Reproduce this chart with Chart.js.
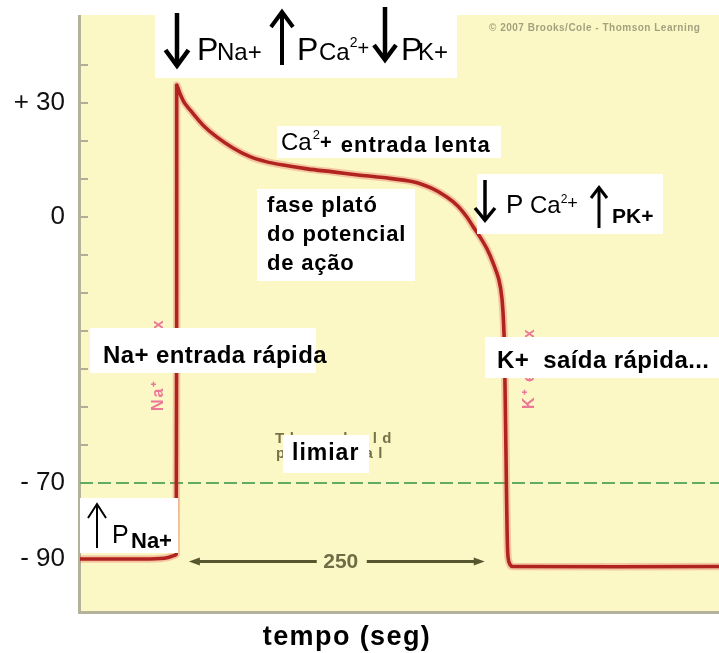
<!DOCTYPE html>
<html>
<head>
<meta charset="utf-8">
<script src="https://cdn.jsdelivr.net/npm/chart.js@4.4.1/dist/chart.umd.min.js"></script>
<style>
  html, body { margin: 0; padding: 0; background: #ffffff; }
  canvas { display: block; }
</style>
</head>
<body>
<canvas id="c" width="719" height="653"></canvas>
<script>
// Ventricular action potential: membrane potential (mV) against time (ms)
const timeMs = [0, 59, 68, 74.5, 78.5, 81.3, 81.7, 83, 84.5, 88, 93, 104, 115.5, 129.3, 143.7, 157, 171.6,
  192, 213.8, 235, 256, 281.4, 297, 310, 319, 326.8, 332, 338, 344, 349, 354, 356.6, 358.3, 359.2,
  360.1, 360.9, 361.7, 363.4, 366, 540];
const potentialMv = [-90, -90, -89.9, -89.6, -89.2, -88.7, 34.7, 33.8, 32.5, 30.2, 28.2, 24.2, 21.1, 18.2, 15.9, 14.6, 13.7,
  12.7, 11.9, 11.1, 10.4, 9.3, 7.6, 5.3, 3.0, 0.1, -2.4, -5.2, -8.4, -12, -16.5, -21.5, -30.5, -45,
  -65, -82, -89.5, -91.5, -92, -92];

// threshold potential and the axis range
const thresholdMv = -70;
const timeRange = [0, 540];
const potentialRange = [-103.7, 53.2];

// labelled potentials on the vertical axis and the small inner tick marks
const labelledMv = [30, 0, -70, -90];
const labelText = ['+ 30', '0', '- 70', '- 90'];
const minorTickMv = [40, 30, 20, 10, 0, -10, -20, -30, -40, -50, -60, -70, -80, -90];

// duration bracket under the curve
const bracketStartMs = 92;
const bracketMs = 250;
const bracketLevelMv = -90.7;

const axisTitle = 'tempo (seg)';

const FF = '"Liberation Sans", Arial, Helvetica, sans-serif';

function txt(ctx, s, x, y, size, weight, opts) {
  opts = opts || {};
  ctx.font = weight + ' ' + size + 'px ' + FF;
  ctx.letterSpacing = (opts.ls || 0) + 'px';
  ctx.textAlign = opts.align || 'left';
  ctx.textBaseline = 'alphabetic';
  ctx.fillStyle = opts.color || '#000';
  ctx.fillText(s, x, y);
  const w = ctx.measureText(s).width;
  ctx.letterSpacing = '0px';
  return x + w;
}

function arrow(ctx, x, yTail, yTip, headW, headH, lw) {
  const dir = yTip > yTail ? 1 : -1;
  ctx.save();
  ctx.strokeStyle = '#000';
  ctx.lineWidth = lw;
  ctx.lineJoin = 'miter';
  ctx.beginPath();
  ctx.moveTo(x, yTail);
  ctx.lineTo(x, yTip - dir * lw * 0.5);
  ctx.stroke();
  ctx.beginPath();
  ctx.moveTo(x - headW / 2, yTip - dir * headH);
  ctx.lineTo(x, yTip - dir * lw * 0.5);
  ctx.lineTo(x + headW / 2, yTip - dir * headH);
  ctx.stroke();
  ctx.restore();
}

function whiteBox(ctx, x, y, w, h) {
  ctx.fillStyle = '#ffffff';
  ctx.fillRect(x, y, w, h);
}

const backdrop = {
  id: 'backdrop',
  beforeDraw(chart) {
    const ctx = chart.ctx, a = chart.chartArea;
    const xs = chart.scales.x, ys = chart.scales.y;
    ctx.save();
    ctx.fillStyle = '#ffffff';
    ctx.fillRect(0, 0, chart.width, chart.height);
    ctx.fillStyle = '#fcf8c6';
    ctx.fillRect(a.left, a.top, a.right - a.left, a.bottom - a.top);

    // publisher credit, small and soft
    ctx.save();
    ctx.filter = 'blur(0.7px)';
    txt(ctx, '\u00A9 2007 Brooks/Cole - Thomson Learning', 489, 31, 10, 'bold', { color: 'rgba(125,122,95,0.7)', ls: 0.5 });
    ctx.restore();

    // faint printed labels underneath the Portuguese captions
    ctx.save();
    ctx.filter = 'blur(0.5px)';
    txt(ctx, 'Threshold', 275, 443, 15, 'bold', { color: 'rgba(95,92,50,0.85)', ls: 5.5 });
    txt(ctx, 'potential', 276, 458, 15, 'bold', { color: 'rgba(95,92,50,0.85)', ls: 5.5 });
    ctx.fillStyle = 'rgba(228,70,135,0.72)';
    ctx.font = 'bold 16px ' + FF;
    ctx.letterSpacing = '2px';
    ctx.translate(163, 411);
    ctx.rotate(-Math.PI / 2);
    ctx.fillText('Na\u207A influx', 0, 0);
    ctx.setTransform(1, 0, 0, 1, 0, 0);
    ctx.translate(534, 409);
    ctx.rotate(-Math.PI / 2);
    ctx.fillText('K\u207A efflux', 0, 0);
    ctx.setTransform(1, 0, 0, 1, 0, 0);
    ctx.letterSpacing = '0px';
    ctx.restore();

    // axis frame
    ctx.strokeStyle = '#b4b29a';
    ctx.lineWidth = 3;
    ctx.beginPath();
    ctx.moveTo(a.left - 0.5, a.top);
    ctx.lineTo(a.left - 0.5, a.bottom + 1.5);
    ctx.lineTo(a.right, a.bottom + 1.5);
    ctx.stroke();

    // inner tick marks every 10 mV
    ctx.strokeStyle = '#b0ae95';
    ctx.lineWidth = 2;
    minorTickMv.forEach(v => {
      const y = Math.round(ys.getPixelForValue(v));
      ctx.beginPath();
      ctx.moveTo(a.left, y);
      ctx.lineTo(a.left + 8, y);
      ctx.stroke();
    });

    // 250 ms bracket
    const x0 = xs.getPixelForValue(bracketStartMs);
    const x1 = xs.getPixelForValue(bracketStartMs + bracketMs);
    const yb = ys.getPixelForValue(bracketLevelMv);
    const xm = (x0 + x1) / 2 + 4;
    ctx.strokeStyle = '#57572f';
    ctx.fillStyle = '#57572f';
    ctx.lineWidth = 3;
    ctx.beginPath();
    ctx.moveTo(x0 + 6, yb); ctx.lineTo(xm - 24, yb);
    ctx.moveTo(xm + 26, yb); ctx.lineTo(x1 - 6, yb);
    ctx.stroke();
    ctx.beginPath();
    ctx.moveTo(x0, yb); ctx.lineTo(x0 + 11, yb - 4); ctx.lineTo(x0 + 11, yb + 4); ctx.closePath();
    ctx.moveTo(x1, yb); ctx.lineTo(x1 - 11, yb - 4); ctx.lineTo(x1 - 11, yb + 4); ctx.closePath();
    ctx.fill();
    ctx.save();
    ctx.filter = 'blur(0.5px)';
    ctx.textBaseline = 'middle';
    ctx.textAlign = 'center';
    ctx.font = 'bold 21px ' + FF;
    ctx.fillStyle = '#6e6d45';
    ctx.fillText(String(bracketMs), xm, yb + 1);
    ctx.restore();
    ctx.restore();
  },
  afterDatasetsDraw(chart) {
    const ctx = chart.ctx;
    ctx.save();
    // top caption: permeability changes at the peak
    whiteBox(ctx, 155, 0, 302, 78);
    arrow(ctx, 177, 13, 68, 23, 18, 4.5);
    txt(ctx, 'P', 197, 60, 32, 'normal');
    txt(ctx, 'Na+', 217, 60, 24, 'normal');
    arrow(ctx, 282, 65, 10, 22, 17, 4);
    txt(ctx, 'P', 297, 60, 32, 'normal');
    let e = txt(ctx, 'Ca', 319, 60, 24, 'normal');
    e = txt(ctx, '2', e, 47, 14, 'normal');
    txt(ctx, '+', e, 55, 20, 'normal');
    arrow(ctx, 385, 7, 62, 22, 17, 4.5);
    txt(ctx, 'P', 401, 60, 32, 'normal');
    txt(ctx, 'K+', 418, 60, 24, 'normal');

    // slow calcium entry
    whiteBox(ctx, 277, 126, 224, 32);
    e = txt(ctx, 'Ca', 281, 150, 24, 'normal');
    e = txt(ctx, '2', e + 1, 139, 13, 'normal');
    e = txt(ctx, '+', e, 149, 20, 'bold');
    txt(ctx, ' entrada lenta', e + 2, 152, 22, 'bold', { ls: 1 });

    // plateau phase
    whiteBox(ctx, 257, 189, 158, 92);
    txt(ctx, 'fase plató', 267, 212, 22, 'bold', { ls: 0.8 });
    txt(ctx, 'do potencial', 267, 241, 22, 'bold', { ls: 0.8 });
    txt(ctx, 'de ação', 267, 270, 22, 'bold', { ls: 0.8 });

    // end of plateau
    whiteBox(ctx, 477, 174, 186, 60);
    arrow(ctx, 485, 180, 222, 20, 14, 3.5);
    txt(ctx, 'P', 506, 213, 26, 'normal');
    e = txt(ctx, 'Ca', 530, 213, 24, 'normal');
    e = txt(ctx, '2', e, 203, 12, 'normal');
    txt(ctx, '+', e, 209, 18, 'normal');
    arrow(ctx, 599, 228, 186, 16, 12, 3);
    txt(ctx, 'PK+', 612, 223, 21, 'bold');

    // fast sodium entry
    whiteBox(ctx, 90, 328, 226, 45);
    txt(ctx, 'Na+ entrada rápida', 103, 363, 24, 'bold', { ls: 0.4 });

    // fast potassium exit
    whiteBox(ctx, 485, 337, 234, 41);
    txt(ctx, 'K+  saída rápida...', 497, 368, 24, 'bold', { ls: 0.4 });

    // threshold caption
    whiteBox(ctx, 283, 435, 86, 38);
    txt(ctx, 'limiar', 292, 460, 23, 'bold', { ls: 1 });

    // sodium permeability rising before the upstroke
    whiteBox(ctx, 80, 498, 98, 55);
    arrow(ctx, 97, 548, 503, 18, 15, 2);
    txt(ctx, 'P', 112, 543, 25, 'normal');
    txt(ctx, 'Na+', 131, 548, 22, 'bold');
    ctx.restore();
  },
  afterDraw(chart) {
    const ctx = chart.ctx;
    ctx.save();
    txt(ctx, axisTitle, 347, 645, 27, 'bold', { align: 'center', ls: 1.4 });
    ctx.restore();
  }
};

const curve = timeMs.map((t, i) => ({ x: t, y: potentialMv[i] }));
const threshold = timeRange.map(t => ({ x: t, y: thresholdMv }));

new Chart(document.getElementById('c'), {
  type: 'line',
  data: {
    datasets: [
      { data: curve, borderColor: '#b1231e', borderWidth: 3.6, pointRadius: 0, tension: 0.3, order: 0 },
      { data: curve, borderColor: 'rgba(225,85,75,0.3)', borderWidth: 7.5, pointRadius: 0, tension: 0.3, order: 1 },
      { data: threshold, borderColor: '#62ac62', borderWidth: 2, borderDash: [13, 5], pointRadius: 0, tension: 0, order: 2 }
    ]
  },
  options: {
    responsive: false,
    animation: false,
    devicePixelRatio: 1,
    layout: { padding: { top: 15, bottom: 42, left: 0, right: 0 } },
    plugins: { legend: { display: false }, tooltip: { enabled: false } },
    scales: {
      x: { type: 'linear', min: timeRange[0], max: timeRange[1], display: false },
      y: {
        type: 'linear', min: potentialRange[0], max: potentialRange[1],
        afterFit(s) {
          s.width = 80;
          s.paddingTop = 0;
          s.paddingBottom = 0;
        },
        grid: { display: false, drawTicks: false },
        border: { display: false },
        afterBuildTicks(s) {
          s.ticks = labelledMv.slice().sort((p, q) => p - q).map(v => ({ value: v }));
        },
        ticks: {
          autoSkip: false,
          padding: 15,
          color: '#111',
          font: { family: FF, size: 26 },
          callback(v) {
            const i = labelledMv.indexOf(Math.round(v));
            return i >= 0 ? labelText[i] : '';
          }
        }
      }
    }
  },
  plugins: [backdrop]
});
</script>
</body>
</html>
